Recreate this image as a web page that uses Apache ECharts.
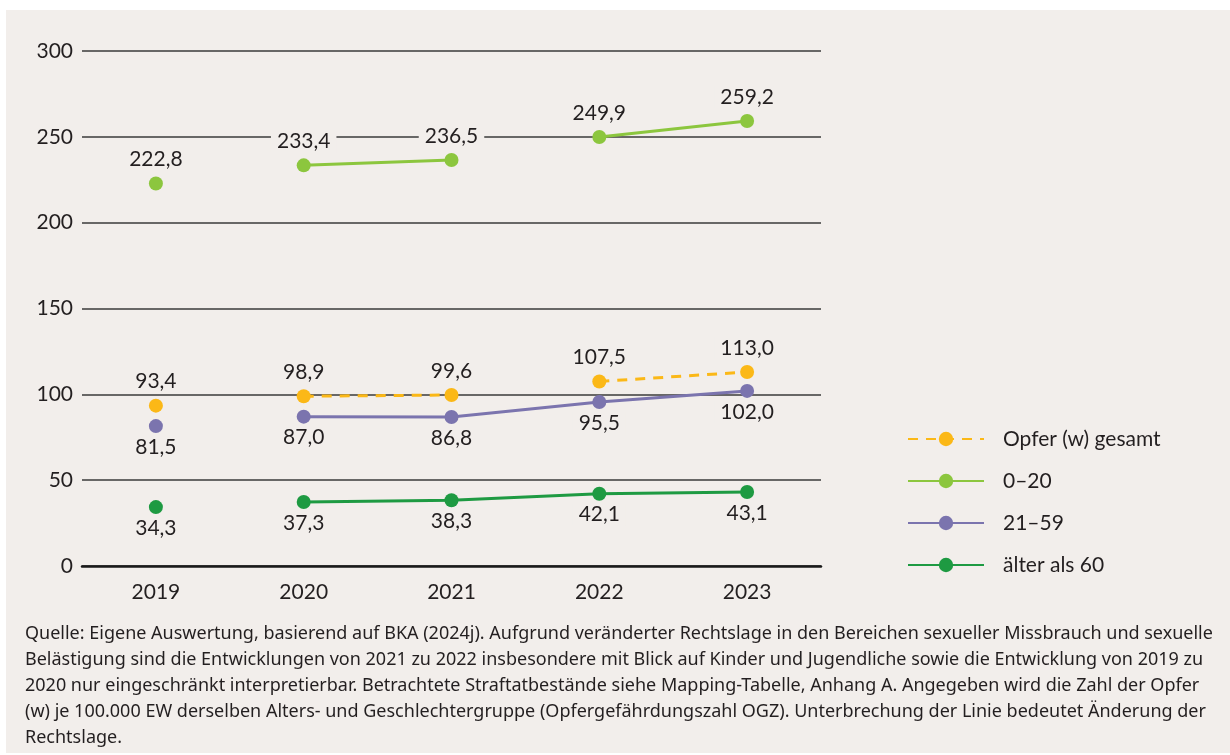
<!DOCTYPE html>
<html>
<head>
<meta charset="utf-8">
<script src="https://cdn.jsdelivr.net/npm/echarts@6/dist/echarts.min.js"></script>
<style>
html,body{margin:0;padding:0;background:#ffffff;}
#chart{width:1230px;height:755px;}
</style>
</head>
<body>
<div id="chart"></div>
<script>
const years = ['2019', '2020', '2021', '2022', '2023'];
const seriesNames = ['Opfer (w) gesamt', '0–20', '21–59', 'älter als 60'];
const opferGesamt = [93.4, 98.9, 99.6, 107.5, 113.0];
const alter0bis20 = [222.8, 233.4, 236.5, 249.9, 259.2];
const alter21bis59 = [81.5, 87.0, 86.8, 95.5, 102.0];
const aelter60 = [34.3, 37.3, 38.3, 42.1, 43.1];
// index ranges of continuous line segments (breaks = change of legal situation)
const segOpfer = [[0, 0], [1, 2], [3, 4]];
const seg0bis20 = [[0, 0], [1, 2], [3, 4]];
const seg21bis59 = [[0, 0], [1, 4]];
const seg60 = [[0, 0], [1, 4]];
const yTicks = [0, 50, 100, 150, 200, 250, 300];
const footnoteLines = [
  'Quelle: Eigene Auswertung, basierend auf BKA (2024j). Aufgrund veränderter Rechtslage in den Bereichen sexueller Missbrauch und sexuelle',
  'Belästigung sind die Entwicklungen von 2021 zu 2022 insbesondere mit Blick auf Kinder und Jugendliche sowie die Entwicklung von 2019 zu',
  '2020 nur eingeschränkt interpretierbar. Betrachtete Straftatbestände siehe Mapping-Tabelle, Anhang A. Angegeben wird die Zahl der Opfer',
  '(w) je 100.000 EW derselben Alters- und Geschlechtergruppe (Opfergefährdungszahl OGZ). Unterbrechung der Linie bedeutet Änderung der',
  'Rechtslage.'
];

const PANEL = '#f2eeeb';
const TEXT = '#231f20';
const FONT = 'Lato';

const defs = [
  { name: seriesNames[0], values: opferGesamt, segs: segOpfer, color: '#fbb817', dash: [10, 8], pos: 'top' },
  { name: seriesNames[1], values: alter0bis20, segs: seg0bis20, color: '#8cc63e', dash: 'solid', pos: 'top' },
  { name: seriesNames[2], values: alter21bis59, segs: seg21bis59, color: '#7b74ae', dash: 'solid', pos: 'bottom' },
  { name: seriesNames[3], values: aelter60, segs: seg60, color: '#1e9a42', dash: 'solid', pos: 'bottom' }
];

const series = [];
defs.forEach(d => {
  d.segs.forEach(([a, b]) => {
    series.push({
      type: 'line',
      name: d.name,
      data: years.map((_, i) => (i >= a && i <= b) ? d.values[i] : null),
      connectNulls: false,
      symbol: 'circle',
      symbolSize: 14,
      showSymbol: true,
      showAllSymbol: true,
      lineStyle: { color: d.color, width: 3, type: d.dash },
      itemStyle: { color: d.color },
      label: {
        show: true,
        position: d.pos,
        distance: d.pos === 'top' ? 6 : 3,
        formatter: p => p.value == null ? '' : Number(p.value).toFixed(1).replace('.', ','),
        fontFamily: FONT,
        fontSize: 21,
        color: TEXT,
        backgroundColor: PANEL,
        padding: [0, 6],
        lineHeight: 22
      },
      emphasis: { disabled: true },
      z: 3
    });
  });
});

const chart = echarts.init(document.getElementById('chart'));
chart.setOption({
  animation: false,
  backgroundColor: '#ffffff',
  graphic: [
    { type: 'rect', z: -100, silent: true, shape: { x: 6, y: 10, width: 1224, height: 743 }, style: { fill: PANEL } },
    {
      type: 'text', left: 25, top: 621, silent: true,
      style: { text: footnoteLines.join('\n'), font: '18px "Noto Sans"', fill: TEXT, lineHeight: 26 }
    }
  ],
  grid: { left: 82, right: 409, top: 51, bottom: 189, containLabel: false },
  legend: {
    data: seriesNames,
    orient: 'vertical',
    left: 907,
    top: 427,
    padding: 0,
    itemWidth: 76,
    itemHeight: 18,
    itemGap: 18,
    textStyle: { fontFamily: FONT, fontSize: 21, color: TEXT, lineHeight: 24, padding: [0, 0, 0, 14] },
    selectedMode: false
  },
  xAxis: {
    type: 'category',
    data: years,
    boundaryGap: true,
    axisLine: { show: true, lineStyle: { color: '#1a1a1a', width: 2.5 } },
    axisTick: { show: false },
    axisLabel: { fontFamily: FONT, fontSize: 21, color: TEXT, margin: 16 }
  },
  yAxis: {
    type: 'value',
    min: yTicks[0],
    max: yTicks[yTicks.length - 1],
    interval: 50,
    axisLine: { show: false },
    axisTick: { show: false },
    axisLabel: { fontFamily: FONT, fontSize: 21, color: TEXT, margin: 9 },
    splitLine: { show: true, lineStyle: { color: '#3a3a3a', width: 1.5 } }
  },
  series: series
});
</script>
</body>
</html>
